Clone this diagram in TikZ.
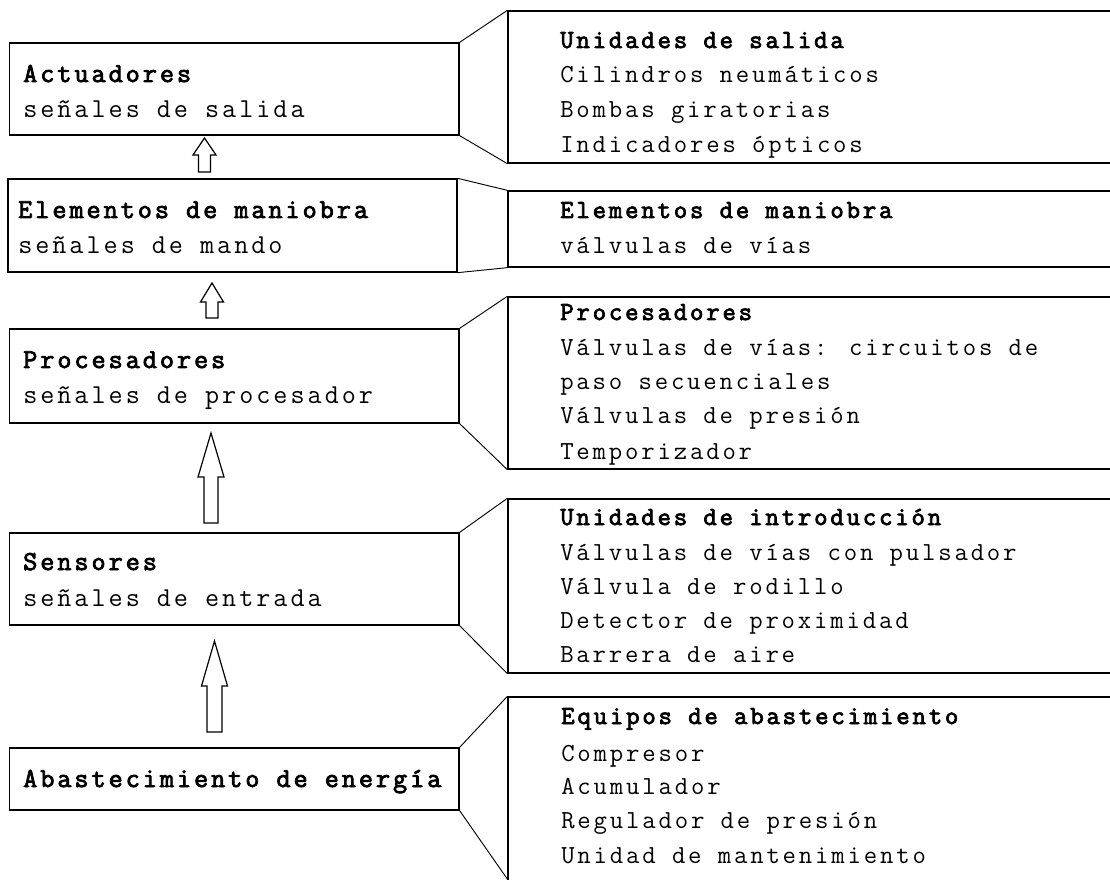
\documentclass[tikz,border=0pt]{standalone}
\usepackage{fontspec}
\newfontfamily\lfont{Latin Modern Mono}[LetterSpace=11, BoldFont={Latin Modern Mono}, BoldFeatures={FakeBold=3}]
\newfontfamily\rfont{Latin Modern Mono}[LetterSpace=10.9, BoldFont={Latin Modern Mono}, BoldFeatures={FakeBold=3}]
\usetikzlibrary{fit}
\tikzset{
  box/.style={draw, line width=1pt, inner sep=0pt},
  link/.style={line width=0.7pt},
  lt/.style={anchor=base west, inner sep=0pt, font=\lfont\fontsize{20.5}{25}\selectfont},
  ltb/.style={lt, font=\lfont\bfseries\fontsize{20.5}{25}\selectfont},
  rt/.style={anchor=base west, inner sep=0pt, font=\rfont\fontsize{19.5}{24}\selectfont},
  rtb/.style={rt, font=\rfont\bfseries\fontsize{19.5}{24}\selectfont},
  barrow/.style={draw, line width=0.9pt, fill=white, line join=miter}
}
\newcommand\blockup[6]{% cx, tip, headbase, bottom, halfhead, halfshaft
  \draw[barrow] (#1,#2) -- (#1+#5,#3) -- (#1+#6,#3) -- (#1+#6,#4) -- (#1-#6,#4) -- (#1-#6,#3) -- (#1-#5,#3) -- cycle;}
\begin{document}
\begin{tikzpicture}[x=0.75pt,y=-0.75pt]
\clip (0,0) rectangle (1110,880);
\fill[white] (0,0) rectangle (1110,880);

% left boxes
\node[box, fit={(9.5,43)(459,135)}] (act) {};
\node[box, fit={(8,179)(457,272)}] (elem) {};
\node[box, fit={(9.5,329)(459,423)}] (proc) {};
\node[box, fit={(9.5,533)(459,625)}] (sens) {};
\node[box, fit={(9.5,748)(459,810)}] (abast) {};

% right boxes (open to the right)
\node[box, fit={(508,11)(1130,163)}] (out1) {};
\node[box, fit={(508,191)(1130,267)}] (out2) {};
\node[box, fit={(508,297)(1130,469)}] (out3) {};
\node[box, fit={(508,499)(1130,673)}] (out4) {};
\node[box, fit={(508,697)(1130,900)}] (out5) {};

% connectors
\draw[link] (act.north east) -- (out1.north west);
\draw[link] (act.south east) -- (out1.south west);
\draw[link] (elem.north east) -- (out2.north west);
\draw[link] (elem.south east) -- (out2.south west);
\draw[link] (proc.north east) -- (out3.north west);
\draw[link] (proc.south east) -- (out3.south west);
\draw[link] (sens.north east) -- (out4.north west);
\draw[link] (sens.south east) -- (out4.south west);
\draw[link] (abast.north east) -- (out5.north west);
\draw[link] (abast.south east) -- (508,880);

% block arrows
\blockup{204.5}{138}{155}{172}{11.5}{6}
\blockup{212}{283}{302}{318}{11.5}{6}
\blockup{211}{433}{477}{523}{13}{7}
\blockup{214.5}{641}{686}{732}{13}{7.5}

% left texts
\node[ltb] (t1a) at (23,82) {Actuadores};
\node[lt]  (t1b) at (23,118) {señales de salida};
\node[ltb] (t2a) at (18,218) {Elementos de maniobra};
\node[lt]  (t2b) at (18,254) {señales de mando};
\node[ltb] (t3a) at (23,368) {Procesadores};
\node[lt]  (t3b) at (23,404) {señales de procesador};
\node[ltb] (t4a) at (23,570) {Sensores};
\node[lt]  (t4b) at (23,606) {señales de entrada};
\node[ltb] (t5a) at (23,787) {Abastecimiento de energía};

% right texts
\node[rtb] (r1a) at (560,48) {Unidades de salida};
\node[rt]  (r1b) at (560,83) {Cilindros neumáticos};
\node[rt]  (r1c) at (560,118) {Bombas giratorias};
\node[rt]  (r1d) at (560,153) {Indicadores ópticos};

\node[rtb] (r2a) at (560,218) {Elementos de maniobra};
\node[rt]  (r2b) at (560,254) {válvulas de vías};

\node[rtb] (r3a) at (560,320) {Procesadores};
\node[rt]  (r3b) at (560,356) {Válvulas de vías: circuitos de};
\node[rt]  (r3c) at (560,390) {paso secuenciales};
\node[rt]  (r3d) at (560,424) {Válvulas de presión};
\node[rt]  (r3e) at (560,459) {Temporizador};

\node[rtb] (r4a) at (560,525) {Unidades de introducción};
\node[rt]  (r4b) at (560,560) {Válvulas de vías con pulsador};
\node[rt]  (r4c) at (560,594) {Válvula de rodillo};
\node[rt]  (r4d) at (560,628) {Detector de proximidad};
\node[rt]  (r4e) at (560,662) {Barrera de aire};

\node[rtb] (r5a) at (561,724) {Equipos de abastecimiento};
\node[rt]  (r5b) at (561,761) {Compresor};
\node[rt]  (r5c) at (561,794) {Acumulador};
\node[rt]  (r5d) at (561,828) {Regulador de presión};
\node[rt]  (r5e) at (561,863) {Unidad de mantenimiento};
\end{tikzpicture}
\end{document}
